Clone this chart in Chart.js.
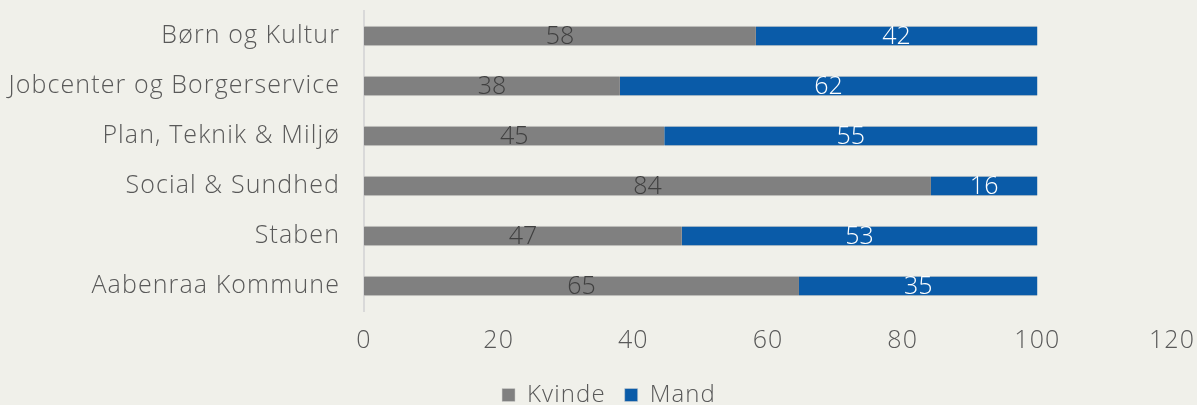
<!DOCTYPE html>
<html><head><meta charset="utf-8">
<script src="https://cdn.jsdelivr.net/npm/chart.js@4/dist/chart.umd.min.js"></script>
<style>html,body{margin:0;padding:0;background:#F0F0EA;overflow:hidden;}#wrap{width:1197px;height:405px;}</style>
</head><body><div id="wrap"><canvas id="c" width="1197" height="405"></canvas></div>
<script>
const categories = ["Børn og Kultur","Jobcenter og Borgerservice","Plan, Teknik & Miljø","Social & Sundhed","Staben","Aabenraa Kommune"];
const kvinde = [58.2, 38.0, 44.6, 84.2, 47.2, 64.6];
const mand = [41.8, 62.0, 55.4, 15.8, 52.8, 35.4];
const xTicks = [0,20,40,60,80,100,120];
const FONT = "'Open Sans', sans-serif";
const SPACING = '1.1px';
const spacingPlugin = {
  id:'spacing',
  beforeUpdate(chart){ chart.ctx.letterSpacing = SPACING; },
  beforeLayout(chart){ chart.ctx.letterSpacing = SPACING; },
  afterLayout(chart){ if (chart.legend) { chart.legend.left += 46; } },
  beforeDraw(chart){ chart.ctx.letterSpacing = SPACING; }
};
const labelPlugin = {
  id:'barLabels',
  afterDatasetsDraw(chart){
    const ctx = chart.ctx;
    ctx.save();
    ctx.letterSpacing = '0px';
    ctx.font = "300 25px " + FONT;
    ctx.textAlign='center'; ctx.textBaseline='middle';
    chart.data.datasets.forEach((ds,i)=>{
      const meta = chart.getDatasetMeta(i);
      meta.data.forEach((bar,j)=>{
        const v = ds.data[j];
        const cx = (bar.x + bar.base)/2;
        ctx.fillStyle = i===0 ? '#404040' : '#FFFFFF';
        ctx.fillText(String(Math.round(v)), cx, bar.y+1);
      });
    });
    ctx.restore();
  }
};
new Chart(document.getElementById('c'),{
  type:'bar',
  data:{labels:categories,datasets:[
    {label:'Kvinde',data:kvinde,backgroundColor:'#808080',borderColor:'#D2D2CE',borderWidth:{top:1,bottom:1,left:0,right:0},borderSkipped:false,barThickness:20},
    {label:'Mand',data:mand,backgroundColor:'#0A5BA8',borderColor:'#D2D2CE',borderWidth:{top:1,bottom:1,left:0,right:0},borderSkipped:false,barThickness:20}
  ]},
  options:{
    indexAxis:'y',responsive:false,animation:false,
    layout:{padding:{top:11,right:25,bottom:-12,left:0}},
    plugins:{legend:{position:'bottom',labels:{font:{family:FONT,size:24,weight:'300'},color:'#595959',boxWidth:13,boxHeight:13,padding:19}},tooltip:{enabled:false}},
    scales:{
      x:{stacked:true,min:0,max:120,afterBuildTicks(s){s.ticks=xTicks.map(v=>({value:v}));},
        afterFit(s){s.paddingLeft=0;s.paddingRight=0;s.height=53;},
        grid:{display:false,drawTicks:false},border:{display:false},
        ticks:{font:{family:FONT,size:25,weight:'300'},color:'#595959',padding:15}},
      y:{stacked:true,grid:{display:false,drawTicks:false},border:{display:true,color:'#D9D9D9',width:2},
        afterFit(s){s.width=364;s.paddingTop=0;s.paddingBottom=0;},
        ticks:{font:{family:FONT,size:25,weight:'300'},color:'#595959',padding:24}}
    }
  },
  plugins:[spacingPlugin,labelPlugin]
});
</script></body></html>
